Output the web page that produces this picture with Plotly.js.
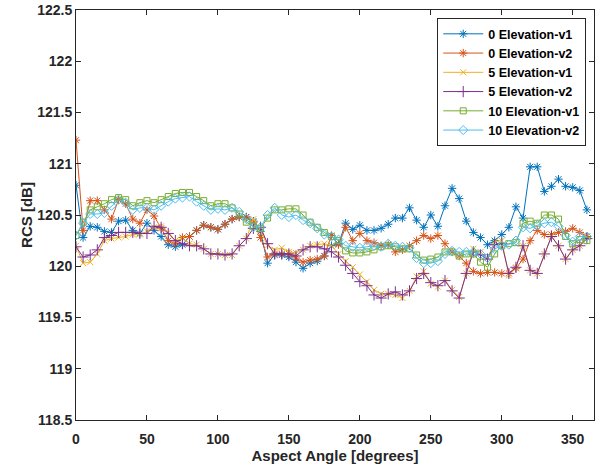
<!DOCTYPE html>
<html>
<head>
<meta charset="utf-8">
<script src="https://cdn.plot.ly/plotly-3.0.1.min.js"></script>
<style>html,body{margin:0;padding:0;background:#fff;}#chart{width:611px;height:465px;}</style>
</head>
<body>
<div id="chart"></div>
<script>
const angles = [0,5,10,15,20,25,30,35,40,45,50,55,60,65,70,75,80,85,90,95,100,105,110,115,120,125,130,135,140,145,150,155,160,165,170,175,180,185,190,195,200,205,210,215,220,225,230,235,240,245,250,255,260,265,270,275,280,285,290,295,300,305,310,315,320,325,330,335,340,345,350,355,360];

const elev0v1 = [120.79,120.28,120.39,120.38,120.34,120.33,120.44,120.45,120.35,120.32,120.42,120.35,120.29,120.21,120.19,120.21,120.29,120.35,120.40,120.38,120.36,120.41,120.46,120.48,120.48,120.44,120.34,120.03,120.11,120.11,120.09,120.04,119.98,120.03,120.05,120.10,120.20,120.22,120.42,120.36,120.40,120.35,120.35,120.37,120.41,120.47,120.47,120.57,120.45,120.38,120.50,120.39,120.59,120.76,120.66,120.44,120.33,120.28,120.21,120.25,120.31,120.38,120.58,120.47,120.97,120.97,120.73,120.78,120.85,120.78,120.77,120.74,120.55];

const elev0v2 = [121.23,120.35,120.64,120.64,120.55,120.46,120.65,120.61,120.46,120.42,120.55,120.49,120.37,120.25,120.22,120.28,120.29,120.35,120.40,120.38,120.36,120.41,120.46,120.48,120.48,120.43,120.28,120.09,120.12,120.12,120.12,120.08,120.04,120.06,120.07,120.10,120.30,120.21,120.38,120.25,120.32,120.25,120.23,120.20,120.21,120.14,120.16,120.20,120.25,120.30,120.27,120.30,120.22,120.14,120.10,120.03,119.95,119.93,119.94,119.94,119.93,119.93,119.98,120.07,120.25,120.35,120.31,120.31,120.33,120.34,120.37,120.33,120.29];

const elev5v1 = [120.20,120.03,120.04,120.12,120.25,120.27,120.28,120.29,120.31,120.31,120.34,120.38,120.39,120.33,120.25,120.27,120.22,120.21,120.17,120.12,120.12,120.11,120.11,120.20,120.27,120.46,120.35,120.20,120.16,120.18,120.14,120.13,120.16,120.20,120.21,120.22,120.20,120.12,120.05,119.99,119.92,119.85,119.77,119.73,119.73,119.72,119.69,119.76,119.90,119.95,119.83,119.80,119.86,119.77,119.70,119.93,120.17,120.14,120.08,120.24,120.25,119.91,119.99,120.20,119.96,119.93,120.12,120.29,120.20,120.07,120.16,120.20,120.29];

const elev5v2 = [120.19,120.09,120.11,120.16,120.28,120.30,120.33,120.33,120.33,120.32,120.32,120.39,120.38,120.32,120.25,120.22,120.20,120.20,120.17,120.12,120.12,120.11,120.12,120.20,120.27,120.37,120.38,120.22,120.12,120.12,120.12,120.10,120.16,120.19,120.19,120.17,120.14,120.09,120.01,119.93,119.85,119.81,119.72,119.69,119.73,119.75,119.72,119.76,119.88,119.93,119.84,119.81,119.86,119.76,119.69,119.93,120.14,120.11,120.07,120.21,120.22,119.93,119.99,120.20,119.96,119.93,120.12,120.29,120.20,120.07,120.16,120.20,120.27];

const elev10v1 = [120.30,120.43,120.55,120.58,120.61,120.65,120.67,120.65,120.59,120.62,120.64,120.62,120.65,120.68,120.71,120.72,120.72,120.68,120.64,120.59,120.61,120.61,120.57,120.51,120.43,120.39,120.37,120.47,120.55,120.55,120.56,120.56,120.50,120.43,120.38,120.33,120.29,120.25,120.15,120.13,120.13,120.14,120.16,120.19,120.20,120.19,120.17,120.17,120.11,120.06,120.07,120.09,120.14,120.14,120.10,120.12,120.12,120.04,119.99,120.12,120.20,120.22,120.23,120.42,120.44,120.42,120.50,120.50,120.46,120.29,120.22,120.26,120.25];

const elev10v2 = [120.30,120.42,120.51,120.51,120.52,120.59,120.65,120.62,120.55,120.57,120.57,120.55,120.59,120.63,120.66,120.67,120.68,120.63,120.59,120.55,120.56,120.55,120.57,120.53,120.46,120.38,120.38,120.50,120.57,120.50,120.48,120.50,120.45,120.42,120.37,120.31,120.29,120.26,120.20,120.19,120.18,120.19,120.20,120.19,120.22,120.20,120.19,120.18,120.08,120.03,120.03,120.05,120.12,120.15,120.14,120.14,120.14,120.12,120.08,120.17,120.20,120.21,120.25,120.38,120.37,120.40,120.42,120.43,120.39,120.30,120.24,120.29,120.29];

const seriesNames = ['0 Elevation-v1','0 Elevation-v2','5 Elevation-v1','5 Elevation-v2','10 Elevation-v1','10 Elevation-v2'];
const xTicks = [0,50,100,150,200,250,300,350];
const yTicks = [118.5,119,119.5,120,120.5,121,121.5,122,122.5];

const seriesData = [elev0v1, elev0v2, elev5v1, elev5v2, elev10v1, elev10v2];
const colors = ['#0072BD','#D95319','#EDB120','#7E2F8E','#77AC30','#4DBEEE'];
const symbols = ['asterisk-open','asterisk-open','x-thin-open','cross-thin-open','square-open','diamond-open'];
const sizes = [7,7,6,8,6,7];

const traces = seriesData.map((ys, i) => ({
  x: angles, y: ys, name: seriesNames[i], type: 'scatter', mode: 'lines+markers',
  line: {color: colors[i], width: 1},
  marker: {symbol: symbols[i], size: sizes[i], color: colors[i], line: {color: colors[i], width: 1}}
}));

const fam = 'Liberation Sans, Arial, Helvetica, sans-serif';
const axisFont = {family: fam, size: 14, color: '#262626', weight: 'bold'};

const layout = {
  width: 611, height: 465,
  margin: {l: 76, r: 17, t: 10, b: 45},
  paper_bgcolor: '#fff', plot_bgcolor: '#fff',
  showlegend: true,
  legend: {
    x: 0.985, y: 0.98, xanchor: 'right', yanchor: 'top',
    bgcolor: '#fff', bordercolor: '#262626', borderwidth: 1,
    font: {family: fam, size: 12.5, color: '#000', weight: 'bold'},
    itemwidth: 40, tracegroupgap: 0
  },
  xaxis: {
    range: [0, 365], tickvals: xTicks, ticktext: xTicks.map(String),
    ticks: 'inside', ticklen: 5, tickwidth: 1, tickcolor: '#262626',
    showline: true, linecolor: '#262626', linewidth: 1, mirror: 'allticks',
    showgrid: false, zeroline: false, tickfont: axisFont, ticklabelstandoff: 6,
    title: {text: 'Aspect Angle [degrees]', font: {family: fam, size: 15, color: '#262626', weight: 'bold'}, standoff: 0}
  },
  yaxis: {
    range: [118.5, 122.5], tickvals: yTicks, ticktext: yTicks.map(String),
    ticks: 'inside', ticklen: 5, tickwidth: 1, tickcolor: '#262626',
    showline: true, linecolor: '#262626', linewidth: 1, mirror: 'allticks',
    showgrid: false, zeroline: false, tickfont: axisFont,
    title: {text: 'RCS [dB]', font: {family: fam, size: 15, color: '#262626', weight: 'bold'}, standoff: 0}
  }
};

Plotly.newPlot('chart', traces, layout, {displayModeBar: false, staticPlot: true});
</script>
</body>
</html>
